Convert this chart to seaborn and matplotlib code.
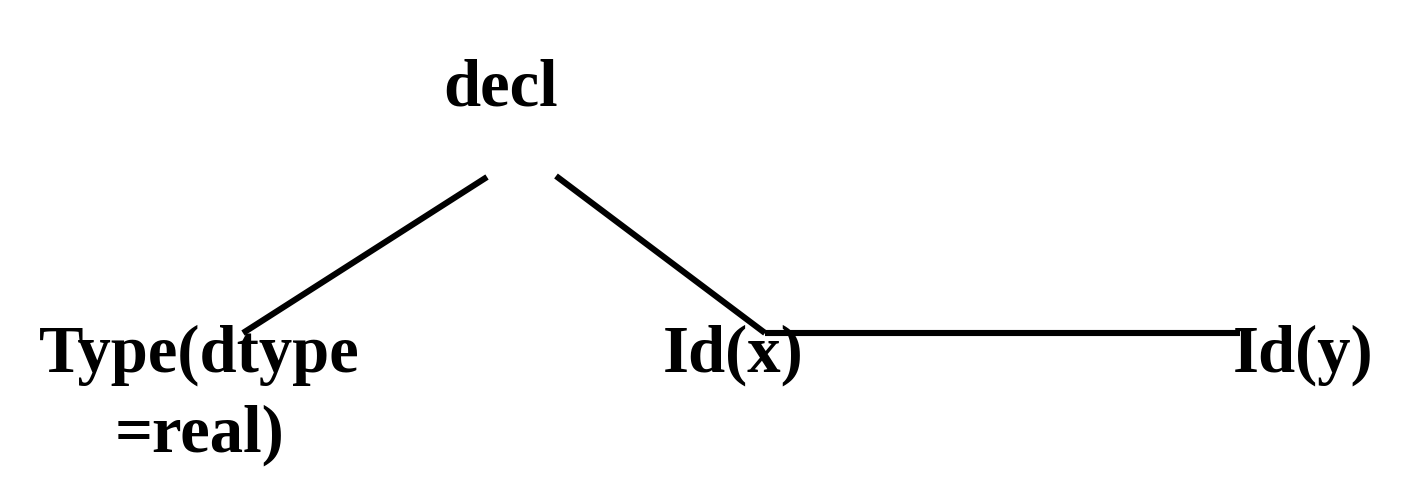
import pandas as pd
import matplotlib.pyplot as plt
import seaborn as sns

# tree nodes and edges
node_names = ['decl', 'type', 'idx', 'idy']
node_labels = ['decl', 'Type(dtype\n=real)', 'Id(x)', 'Id(y)']
edge_from = ['decl', 'decl', 'idx']
edge_to = ['type', 'idx', 'idy']

# layout in pixel coordinates (label anchor = first baseline, edge ends)
label_pos = {'decl': (501, 105), 'type': (199, 372), 'idx': (733, 372), 'idy': (1303, 372)}
edge_start = {('decl', 'type'): (487, 177), ('decl', 'idx'): (556, 176), ('idx', 'idy'): (765, 333)}
edge_end = {('decl', 'type'): (243, 333), ('decl', 'idx'): (765, 333), ('idx', 'idy'): (1240, 333)}


def build_edges():
    rows = []
    for i, (a, b) in enumerate(zip(edge_from, edge_to)):
        x0, y0 = edge_start[(a, b)]
        x1, y1 = edge_end[(a, b)]
        rows.append({'edge': i, 'x': x0, 'y': y0})
        rows.append({'edge': i, 'x': x1, 'y': y1})
    return pd.DataFrame(rows)


def main():
    sns.set_theme(style='white')
    plt.rcParams['font.family'] = ['Liberation Serif', 'DejaVu Serif']

    fig = plt.figure(figsize=(14.04, 4.94), dpi=100)
    ax = fig.add_axes([0, 0, 1, 1])

    df = build_edges()
    sns.lineplot(data=df, x='x', y='y', units='edge', estimator=None, sort=False,
                 color='black', linewidth=4.4, ax=ax, legend=False)
    for line in ax.lines:
        line.set_solid_capstyle('butt')

    for name, label in zip(node_names, node_labels):
        x, y = label_pos[name]
        lines = label.split('\n')
        for k, part in enumerate(lines):
            ax.text(x, y + k * 80, part, ha='center', va='baseline',
                    fontsize=48, fontweight='bold', color='black')

    ax.set_xlim(0, 1404)
    ax.set_ylim(494, 0)
    ax.axis('off')
    fig.savefig('out.png', dpi=100, facecolor='white')
    plt.close(fig)


if __name__ == "__main__":
    main()
